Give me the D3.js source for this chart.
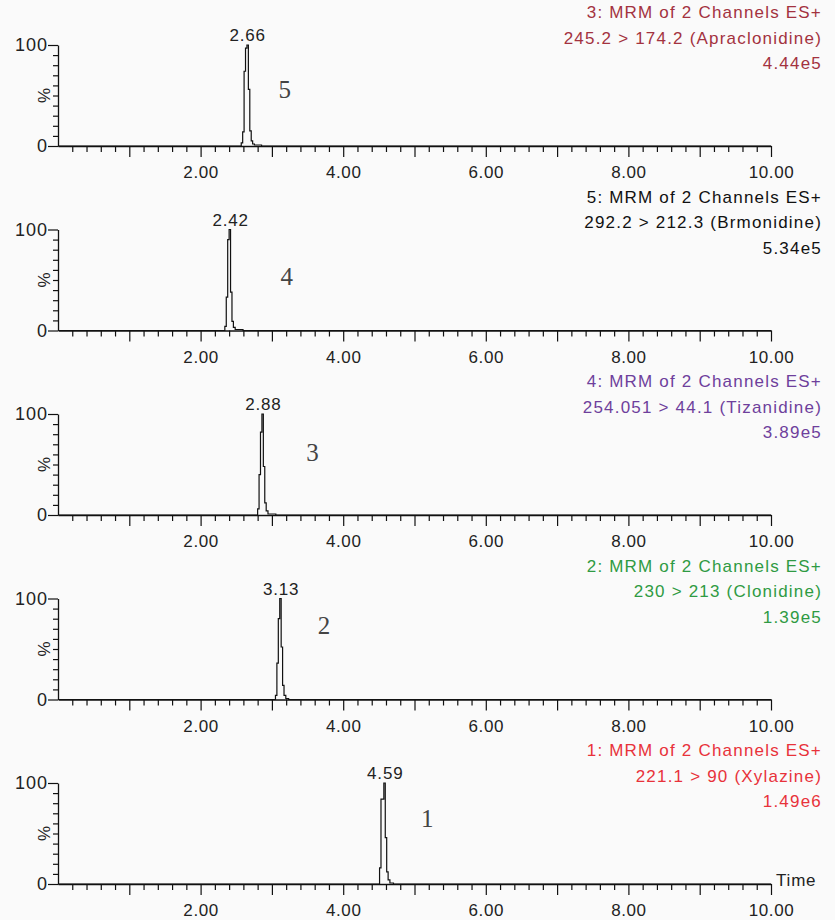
<!DOCTYPE html>
<html>
<head>
<meta charset="utf-8">
<script src="https://cdn.jsdelivr.net/npm/d3@7"></script>
<style>
body { margin: 0; background: #fafafa; }
svg { display: block; }
text { font-family: "Liberation Sans", Arial, sans-serif; }
</style>
</head>
<body>
<svg id="chart" width="835" height="920"></svg>
<script>
// channel headers, top to bottom
var channelIds = ["3", "5", "4", "2", "1"];
var transitions = ["245.2 > 174.2 (Apraclonidine)", "292.2 > 212.3 (Brmonidine)", "254.051 > 44.1 (Tizanidine)", "230 > 213 (Clonidine)", "221.1 > 90 (Xylazine)"];
var intensities = ["4.44e5", "5.34e5", "3.89e5", "1.39e5", "1.49e6"];
var titleColors = ["#a3323f", "#111111", "#6e3f9c", "#2f9a43", "#e8323a"];
var peakTimes = [2.66, 2.42, 2.88, 3.13, 4.59];
var peakNumbers = ["5", "4", "3", "2", "1"];
var numberPos = [[3.18, 56], [3.21, 54], [3.57, 62], [3.73, 74], [5.18, 65]]; // [time, %]

// traces: [time, %]
var trace5 = [[0, 0], [2.56, 0], [2.58, 3], [2.60, 14], [2.62, 74], [2.64, 97], [2.66, 100], [2.68, 56], [2.70, 15], [2.72, 5], [2.74, 2], [2.77, 1], [2.84, 1], [2.87, 0], [10, 0]];
var trace4 = [[0, 0], [2.33, 0], [2.35, 4], [2.37, 33], [2.39, 90], [2.41, 100], [2.43, 38], [2.45, 9], [2.47, 3], [2.50, 1], [2.58, 1], [2.61, 0], [10, 0]];
var trace3 = [[0, 0], [2.79, 0], [2.81, 6], [2.83, 40], [2.85, 82], [2.87, 100], [2.89, 48], [2.91, 12], [2.93, 4], [2.96, 1], [3.04, 1], [3.07, 0], [10, 0]];
var trace2 = [[0, 0], [3.04, 0], [3.06, 4], [3.08, 36], [3.10, 80], [3.12, 100], [3.14, 52], [3.16, 14], [3.18, 4], [3.21, 1], [3.26, 0], [10, 0]];
var trace1 = [[0, 0], [4.50, 0], [4.52, 16], [4.54, 84], [4.56, 84], [4.58, 100], [4.60, 46], [4.62, 12], [4.64, 4], [4.67, 1], [4.74, 0], [10, 0]];
var traces = [trace5, trace4, trace3, trace2, trace1];

var xMajor = [0, 1, 2, 3, 4, 5, 6, 7, 8, 9, 10];
var xLabels = [2, 4, 6, 8, 10];
var yTicks = [0, 10, 20, 30, 40, 50, 60, 70, 80, 90, 100];

var svg = d3.select("#chart");
var x = d3.scaleLinear().domain([0, 10]).range([58, 771]);
var fmt = d3.format(".2f");

var minor = d3.range(1, 51).map(function (d) { return d / 5; }); // 0.2 steps

traces.forEach(function (data, i) {
  var top = 45 + i * 184.5;
  var y = d3.scaleLinear().domain([0, 100]).range([top + 101, top]);
  var g = svg.append("g");

  // x axis
  var xa = g.append("g")
    .attr("transform", "translate(0," + (top + 101) + ")")
    .call(d3.axisBottom(x).tickValues(minor).tickSize(6).tickFormat(function (d) {
      return xLabels.indexOf(Math.round(d * 100) / 100) >= 0 ? fmt(d) : "";
    }).tickSizeOuter(0).tickPadding(14));
  xa.select(".domain").attr("stroke", "#111").attr("stroke-width", 1.3);
  xa.selectAll(".tick line").attr("stroke", "#111").attr("stroke-width", 1.2)
    .attr("y2", function (d) { return xMajor.indexOf(Math.round(d * 100) / 100) >= 0 ? 11 : 6; });
  xa.selectAll(".tick text").attr("fill", "#222").style("font-size", "17px")
    .style("letter-spacing", "0.6px")
    .style("font-family", "'Liberation Sans', Arial, sans-serif");

  // y axis
  var ya = g.append("g")
    .attr("transform", "translate(58,0)")
    .call(d3.axisLeft(y).tickValues(yTicks).tickSize(5).tickSizeOuter(0)
      .tickFormat(function (d) { return d === 0 || d === 100 ? d : ""; }).tickPadding(3));
  ya.select(".domain").attr("stroke", "#111").attr("stroke-width", 1.3);
  ya.selectAll(".tick line").attr("stroke", "#111").attr("stroke-width", 1.2)
    .attr("x2", function (d) { return d === 0 || d === 100 ? -10 : -5; });
  ya.selectAll(".tick text").attr("fill", "#222").attr("x", -10).style("font-size", "18px")
    .style("letter-spacing", "1px")
    .style("font-family", "'Liberation Sans', Arial, sans-serif");

  g.append("text")
    .attr("transform", "translate(44," + y(50) + ") rotate(-90)")
    .attr("text-anchor", "middle")
    .attr("dy", "0.35em")
    .style("font-size", "17px")
    .attr("fill", "#222")
    .text("%");

  // trace
  var line = d3.line()
    .x(function (d) { return x(d[0]); })
    .y(function (d) { return y(d[1]); })
    .curve(d3.curveStep);
  g.append("path")
    .datum(data)
    .attr("d", line)
    .attr("fill", "none")
    .attr("stroke", "#111")
    .attr("stroke-width", 1.2);

  // apex label
  g.append("text")
    .attr("x", x(peakTimes[i]))
    .attr("y", y(100) - 4)
    .attr("text-anchor", "middle")
    .style("font-size", "17px")
    .style("letter-spacing", "0.8px")
    .attr("fill", "#222")
    .text(fmt(peakTimes[i]));

  // hand-written compound number
  g.append("text")
    .attr("x", x(numberPos[i][0]))
    .attr("y", y(numberPos[i][1]))
    .attr("text-anchor", "middle")
    .attr("dy", "0.35em")
    .style("font-family", "'Liberation Serif', 'Times New Roman', serif")
    .style("font-size", "25px")
    .attr("fill", "#444")
    .text(peakNumbers[i]);

  // header
  var head = [channelIds[i] + ": MRM of 2 Channels ES+", transitions[i], intensities[i]];
  g.selectAll(".head")
    .data(head)
    .enter()
    .append("text")
    .attr("x", 822)
    .attr("y", function (d, k) { return top - 27 + k * 25.5; })
    .attr("text-anchor", "end")
    .style("font-size", "17px")
    .style("letter-spacing", "1.2px")
    .attr("fill", titleColors[i])
    .text(function (d) { return d; });

  if (i === traces.length - 1) {
    g.append("text")
      .attr("x", 776)
      .attr("y", top + 103)
      .style("font-size", "17px")
      .style("letter-spacing", "0.8px")
      .attr("fill", "#222")
      .text("Time");
  }
});
</script>
</body>
</html>
